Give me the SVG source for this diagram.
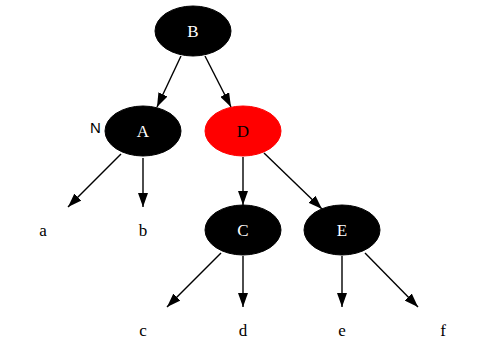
<svg xmlns="http://www.w3.org/2000/svg" width="487" height="362" viewBox="0 0 487 362">
<defs>
<marker id="ah" markerWidth="14" markerHeight="10" refX="14" refY="5" orient="auto" markerUnits="userSpaceOnUse">
<path d="M0,0 L14,5 L0,10 Z" fill="#000"/>
</marker>
<style>
.n ellipse{fill:#000;stroke:#000;stroke-width:1}
.n.red ellipse{fill:#f00;stroke:#f00}
.n text{font-family:"Liberation Serif","Times New Roman",serif;font-size:17px;fill:#fff;text-anchor:middle}
.n.red text{fill:#000}
.leaf{font-family:"Liberation Serif","Times New Roman",serif;font-size:17px;fill:#000;text-anchor:middle}
.edges line{stroke:#000;stroke-width:1.4;marker-end:url(#ah)}
.lbl{font-family:"Liberation Sans",Arial,sans-serif;font-size:15px;fill:#000}
</style>
</defs>
<rect width="487" height="362" fill="#fff"/>
<g class="edges">
<line x1="181" y1="56" x2="157" y2="107"/>
<line x1="205" y1="56" x2="231" y2="107"/>
<line x1="121" y1="154" x2="68" y2="207"/>
<line x1="143" y1="158" x2="143" y2="207"/>
<line x1="243" y1="157" x2="243" y2="205"/>
<line x1="264" y1="153" x2="322" y2="209"/>
<line x1="221" y1="253" x2="167" y2="307"/>
<line x1="243" y1="256" x2="243" y2="307"/>
<line x1="342" y1="256" x2="342" y2="307"/>
<line x1="365" y1="253" x2="418" y2="307"/>
</g>
<g id="node-B" class="n"><ellipse cx="193" cy="31" rx="38" ry="25"/><text x="193" y="37">B</text></g>
<g id="node-A" class="n"><ellipse cx="143" cy="131" rx="38" ry="25"/><text x="143" y="137">A</text></g>
<text class="lbl" x="90" y="133">N</text>
<g id="node-D" class="n red"><ellipse cx="243" cy="131" rx="38" ry="25"/><text x="243" y="137">D</text></g>
<g id="node-C" class="n"><ellipse cx="243" cy="230" rx="38" ry="25"/><text x="243" y="236">C</text></g>
<g id="node-E" class="n"><ellipse cx="342" cy="230" rx="38" ry="25"/><text x="342" y="236">E</text></g>
<g id="leaf-a"><text class="leaf" x="43" y="236">a</text></g>
<g id="leaf-b"><text class="leaf" x="143" y="236">b</text></g>
<g id="leaf-c"><text class="leaf" x="143" y="336">c</text></g>
<g id="leaf-d"><text class="leaf" x="243" y="336">d</text></g>
<g id="leaf-e"><text class="leaf" x="342" y="336">e</text></g>
<g id="leaf-f"><text class="leaf" x="443" y="336">f</text></g>
</svg>
